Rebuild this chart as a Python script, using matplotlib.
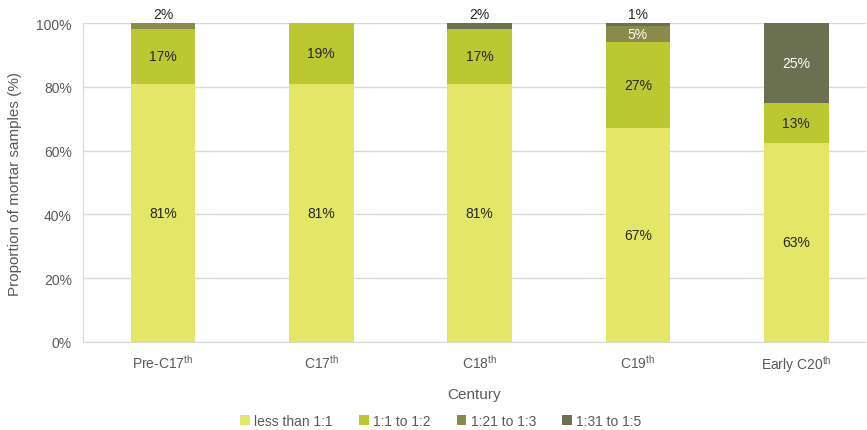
import numpy as np
import matplotlib
matplotlib.use("Agg")
import matplotlib.pyplot as plt
from matplotlib.ticker import PercentFormatter

plt.rcParams['font.family'] = ['Liberation Sans', 'DejaVu Sans']
plt.rcParams['mathtext.fontset'] = 'custom'
plt.rcParams['mathtext.rm'] = 'Liberation Sans'

# data (percent of mortar samples)
centuries = ["Pre-C17$^{\\mathrm{th}}$", "C17$^{\\mathrm{th}}$", "C18$^{\\mathrm{th}}$",
             "C19$^{\\mathrm{th}}$", "Early C20$^{\\mathrm{th}}$"]
ratio_names = ["less than 1:1", "1:1 to 1:2", "1:21 to 1:3", "1:31 to 1:5"]
less_than_1_1 = [81, 81, 81, 67, 62.5]
r_1_1_to_1_2 = [17, 19, 17, 27, 12.5]
r_1_21_to_1_3 = [2, 0, 0, 5, 0]
r_1_31_to_1_5 = [0, 0, 2, 1, 25]

series = [less_than_1_1, r_1_1_to_1_2, r_1_21_to_1_3, r_1_31_to_1_5]
colors = ["#E3E666", "#BBC832", "#8A8A4B", "#6A7050"]
text_colors = ["#262626", "#262626", "white", "white"]

fig = plt.figure(figsize=(8.67, 4.31), dpi=100)
ax = fig.add_axes([83 / 867, 1 - 343 / 431, (866 - 83) / 867, (343 - 24) / 431])

x = np.arange(len(centuries))
bottom = np.zeros(len(centuries))
for vals, name, col, tcol in zip(series, ratio_names, colors, text_colors):
    vals = np.array(vals, dtype=float)
    ax.bar(x, vals, 0.41, bottom=bottom, color=col, label=name, zorder=3)
    for xi, v, b in zip(x, vals, bottom):
        if v <= 0:
            continue
        lbl = f"{int(v + 0.5)}%"
        if v < 3:
            # small slices get their label above the bar
            ax.text(xi, b + v + 0.6, lbl, ha="center", va="bottom",
                    fontsize=10, color="#262626")
        else:
            ax.text(xi, b + v / 2, lbl, ha="center", va="center",
                    fontsize=10, color=tcol)
    bottom += vals

ax.set_ylim(0, 100)
ax.set_xlim(-0.505, 4.44)
ax.set_yticks(np.arange(0, 101, 20))
ax.yaxis.set_major_formatter(PercentFormatter(decimals=0))
ax.grid(axis="y", color="#D9D9D9", linewidth=1, zorder=0)
ax.set_xticks(x)
ax.set_xticklabels(centuries)
ax.tick_params(axis="both", length=0, labelsize=10, colors="#595959", pad=8)
for side in ["top", "right"]:
    ax.spines[side].set_visible(False)
ax.spines["bottom"].set_color("#D9D9D9")
ax.spines["left"].set_color("#D9D9D9")

ax.set_xlabel("Century", fontsize=11, color="#595959", labelpad=9)
ax.set_ylabel("Proportion of mortar samples (%)", fontsize=11, color="#595959", labelpad=10)

leg = ax.legend(loc="center", bbox_to_anchor=(0.457, 1 - (422 - 24) / 319), ncol=4,
                frameon=False, fontsize=10, handlelength=0.7, handleheight=0.7,
                handletextpad=0.3, columnspacing=1.9, borderpad=0)
for t in leg.get_texts():
    t.set_color("#595959")

fig.savefig("out.png", dpi=100)
